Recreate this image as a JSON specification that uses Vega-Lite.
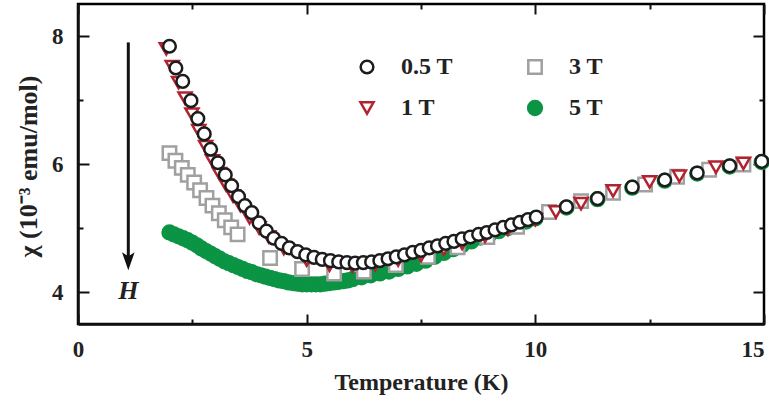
{
  "$schema": "https://vega.github.io/schema/vega-lite/v6.json",
  "width": 686,
  "height": 320,
  "autosize": {"type": "none"},
  "padding": {"left": 78, "top": 4, "right": 5, "bottom": 79},
  "background": "white",
  "config": {
    "view": {"stroke": "black", "strokeWidth": 2.5},
    "font": "Liberation Serif",
    "axis": {
      "grid": false,
      "domainColor": "#111",
      "domainWidth": 2.5,
      "tickColor": "#111",
      "tickWidth": 2,
      "labelFont": "Liberation Serif",
      "labelFontSize": 23,
      "labelFontWeight": "bold",
      "labelColor": "#222",
      "titleFont": "Liberation Serif",
      "titleFontSize": 24,
      "titleFontWeight": "bold",
      "titleColor": "#222"
    }
  },
  "datasets": {
    "points": [
      {"s":"5 T","T":2.0,"chi":4.93},{"s":"5 T","T":2.1,"chi":4.9},{"s":"5 T","T":2.2,"chi":4.87},{"s":"5 T","T":2.3,"chi":4.84},{"s":"5 T","T":2.4,"chi":4.81},{"s":"5 T","T":2.5,"chi":4.77},{"s":"5 T","T":2.6,"chi":4.73},{"s":"5 T","T":2.7,"chi":4.68},{"s":"5 T","T":2.8,"chi":4.64},{"s":"5 T","T":2.9,"chi":4.6},{"s":"5 T","T":3.0,"chi":4.56},{"s":"5 T","T":3.1,"chi":4.52},{"s":"5 T","T":3.2,"chi":4.48},{"s":"5 T","T":3.3,"chi":4.45},{"s":"5 T","T":3.4,"chi":4.42},{"s":"5 T","T":3.5,"chi":4.39},{"s":"5 T","T":3.6,"chi":4.36},{"s":"5 T","T":3.7,"chi":4.33},{"s":"5 T","T":3.8,"chi":4.31},{"s":"5 T","T":3.9,"chi":4.28},{"s":"5 T","T":4.0,"chi":4.26},{"s":"5 T","T":4.1,"chi":4.24},{"s":"5 T","T":4.2,"chi":4.22},{"s":"5 T","T":4.3,"chi":4.2},{"s":"5 T","T":4.4,"chi":4.18},{"s":"5 T","T":4.5,"chi":4.17},{"s":"5 T","T":4.6,"chi":4.15},{"s":"5 T","T":4.7,"chi":4.14},{"s":"5 T","T":4.8,"chi":4.13},{"s":"5 T","T":4.9,"chi":4.12},{"s":"5 T","T":5.0,"chi":4.12},{"s":"5 T","T":5.1,"chi":4.12},{"s":"5 T","T":5.2,"chi":4.12},{"s":"5 T","T":5.3,"chi":4.12},{"s":"5 T","T":5.4,"chi":4.13},{"s":"5 T","T":5.5,"chi":4.14},{"s":"5 T","T":5.6,"chi":4.15},{"s":"5 T","T":5.7,"chi":4.16},{"s":"5 T","T":5.8,"chi":4.17},{"s":"5 T","T":5.9,"chi":4.18},{"s":"5 T","T":6.0,"chi":4.2},{"s":"5 T","T":6.2,"chi":4.23},{"s":"5 T","T":6.4,"chi":4.26},{"s":"5 T","T":6.6,"chi":4.29},{"s":"5 T","T":6.8,"chi":4.32},{"s":"5 T","T":7.0,"chi":4.36},{"s":"5 T","T":7.2,"chi":4.4},{"s":"5 T","T":7.4,"chi":4.44},{"s":"5 T","T":7.6,"chi":4.49},{"s":"5 T","T":7.8,"chi":4.55},{"s":"5 T","T":8.0,"chi":4.61},{"s":"5 T","T":8.2,"chi":4.67},{"s":"5 T","T":8.4,"chi":4.73},{"s":"5 T","T":8.6,"chi":4.79},{"s":"5 T","T":8.8,"chi":4.85},{"s":"5 T","T":9.0,"chi":4.9},{"s":"5 T","T":9.2,"chi":4.95},{"s":"5 T","T":9.4,"chi":5.0},{"s":"5 T","T":9.6,"chi":5.05},{"s":"5 T","T":9.8,"chi":5.1},{"s":"5 T","T":10.0,"chi":5.15},{"s":"5 T","T":10.68,"chi":5.32},{"s":"5 T","T":11.36,"chi":5.45},{"s":"5 T","T":12.12,"chi":5.63},{"s":"5 T","T":12.83,"chi":5.74},{"s":"5 T","T":13.54,"chi":5.85},{"s":"5 T","T":14.25,"chi":5.96},{"s":"5 T","T":14.95,"chi":6.03},
      {"s":"3 T","T":2.0,"chi":6.17},{"s":"3 T","T":2.13,"chi":6.05},{"s":"3 T","T":2.27,"chi":5.94},{"s":"3 T","T":2.4,"chi":5.83},{"s":"3 T","T":2.54,"chi":5.71},{"s":"3 T","T":2.67,"chi":5.59},{"s":"3 T","T":2.81,"chi":5.47},{"s":"3 T","T":2.94,"chi":5.35},{"s":"3 T","T":3.08,"chi":5.23},{"s":"3 T","T":3.21,"chi":5.12},{"s":"3 T","T":3.35,"chi":5.01},{"s":"3 T","T":3.49,"chi":4.9},{"s":"3 T","T":4.2,"chi":4.53},{"s":"3 T","T":4.9,"chi":4.36},{"s":"3 T","T":5.6,"chi":4.29},{"s":"3 T","T":6.25,"chi":4.32},{"s":"3 T","T":6.95,"chi":4.42},{"s":"3 T","T":7.65,"chi":4.55},{"s":"3 T","T":8.3,"chi":4.7},{"s":"3 T","T":8.95,"chi":4.86},{"s":"3 T","T":9.6,"chi":5.02},{"s":"3 T","T":10.3,"chi":5.25},{"s":"3 T","T":11.0,"chi":5.42},{"s":"3 T","T":11.7,"chi":5.55},{"s":"3 T","T":12.4,"chi":5.68},{"s":"3 T","T":13.1,"chi":5.8},{"s":"3 T","T":13.8,"chi":5.91},{"s":"3 T","T":14.55,"chi":5.99},
      {"s":"1 T","T":1.93,"chi":7.8},{"s":"1 T","T":2.06,"chi":7.52},{"s":"1 T","T":2.2,"chi":7.27},{"s":"1 T","T":2.34,"chi":7.03},{"s":"1 T","T":2.49,"chi":6.78},{"s":"1 T","T":2.64,"chi":6.52},{"s":"1 T","T":2.79,"chi":6.27},{"s":"1 T","T":2.94,"chi":6.05},{"s":"1 T","T":3.09,"chi":5.85},{"s":"1 T","T":3.24,"chi":5.67},{"s":"1 T","T":3.39,"chi":5.5},{"s":"1 T","T":3.55,"chi":5.35},{"s":"1 T","T":3.75,"chi":5.16},{"s":"1 T","T":3.96,"chi":5.0},{"s":"1 T","T":4.17,"chi":4.86},{"s":"1 T","T":4.5,"chi":4.68},{"s":"1 T","T":5.0,"chi":4.5},{"s":"1 T","T":5.5,"chi":4.42},{"s":"1 T","T":6.0,"chi":4.4},{"s":"1 T","T":6.5,"chi":4.43},{"s":"1 T","T":7.0,"chi":4.5},{"s":"1 T","T":7.5,"chi":4.57},{"s":"1 T","T":8.0,"chi":4.67},{"s":"1 T","T":8.4,"chi":4.76},{"s":"1 T","T":8.9,"chi":4.87},{"s":"1 T","T":9.4,"chi":4.98},{"s":"1 T","T":10.0,"chi":5.13},{"s":"1 T","T":10.45,"chi":5.25},{"s":"1 T","T":11.0,"chi":5.38},{"s":"1 T","T":11.7,"chi":5.58},{"s":"1 T","T":12.5,"chi":5.72},{"s":"1 T","T":13.15,"chi":5.81},{"s":"1 T","T":13.95,"chi":5.95},{"s":"1 T","T":14.55,"chi":6.01},
      {"s":"0.5 T","T":2.0,"chi":7.84},{"s":"0.5 T","T":2.14,"chi":7.5},{"s":"0.5 T","T":2.29,"chi":7.29},{"s":"0.5 T","T":2.47,"chi":6.99},{"s":"0.5 T","T":2.62,"chi":6.71},{"s":"0.5 T","T":2.76,"chi":6.47},{"s":"0.5 T","T":2.9,"chi":6.23},{"s":"0.5 T","T":3.06,"chi":6.02},{"s":"0.5 T","T":3.22,"chi":5.83},{"s":"0.5 T","T":3.36,"chi":5.66},{"s":"0.5 T","T":3.51,"chi":5.49},{"s":"0.5 T","T":3.65,"chi":5.35},{"s":"0.5 T","T":3.8,"chi":5.24},{"s":"0.5 T","T":3.96,"chi":5.08},{"s":"0.5 T","T":4.12,"chi":4.95},{"s":"0.5 T","T":4.28,"chi":4.84},{"s":"0.5 T","T":4.45,"chi":4.76},{"s":"0.5 T","T":4.62,"chi":4.69},{"s":"0.5 T","T":4.8,"chi":4.63},{"s":"0.5 T","T":4.98,"chi":4.58},{"s":"0.5 T","T":5.16,"chi":4.54},{"s":"0.5 T","T":5.34,"chi":4.51},{"s":"0.5 T","T":5.52,"chi":4.49},{"s":"0.5 T","T":5.7,"chi":4.47},{"s":"0.5 T","T":5.88,"chi":4.46},{"s":"0.5 T","T":6.06,"chi":4.45},{"s":"0.5 T","T":6.24,"chi":4.46},{"s":"0.5 T","T":6.42,"chi":4.47},{"s":"0.5 T","T":6.6,"chi":4.49},{"s":"0.5 T","T":6.78,"chi":4.52},{"s":"0.5 T","T":6.96,"chi":4.55},{"s":"0.5 T","T":7.14,"chi":4.58},{"s":"0.5 T","T":7.32,"chi":4.62},{"s":"0.5 T","T":7.5,"chi":4.65},{"s":"0.5 T","T":7.68,"chi":4.69},{"s":"0.5 T","T":7.86,"chi":4.72},{"s":"0.5 T","T":8.04,"chi":4.76},{"s":"0.5 T","T":8.22,"chi":4.79},{"s":"0.5 T","T":8.4,"chi":4.83},{"s":"0.5 T","T":8.58,"chi":4.86},{"s":"0.5 T","T":8.76,"chi":4.9},{"s":"0.5 T","T":8.94,"chi":4.93},{"s":"0.5 T","T":9.12,"chi":4.97},{"s":"0.5 T","T":9.3,"chi":5.01},{"s":"0.5 T","T":9.48,"chi":5.05},{"s":"0.5 T","T":9.66,"chi":5.09},{"s":"0.5 T","T":9.84,"chi":5.13},{"s":"0.5 T","T":10.02,"chi":5.17},{"s":"0.5 T","T":10.68,"chi":5.33},{"s":"0.5 T","T":11.36,"chi":5.46},{"s":"0.5 T","T":12.12,"chi":5.64},{"s":"0.5 T","T":12.83,"chi":5.75},{"s":"0.5 T","T":13.54,"chi":5.86},{"s":"0.5 T","T":14.25,"chi":5.97},{"s":"0.5 T","T":14.95,"chi":6.04}
    ],
    "arrow": [{"T": 1.1, "top": 7.9, "bottom": 4.55, "head": 4.48, "hy": 4.02, "txt": "H"}]
  },
  "resolve": {"axis": {"x": "independent", "y": "independent"}},
  "layer": [
    {
      "data": {"name": "points"},
      "mark": {"type": "point", "strokeWidth": 2.5, "opacity": 1},
      "encoding": {
        "x": {
          "field": "T", "type": "quantitative",
          "scale": {"domain": [0, 15], "nice": false, "zero": false},
          "axis": {
            "orient": "bottom",
            "values": [0, 2.5, 5, 7.5, 10, 12.5, 15],
            "labelExpr": "datum.value % 5 == 0 ? datum.label : ''",
            "tickSize": {"condition": {"test": "datum.value % 5 != 0", "value": -5}, "value": -10},
            "labelPadding": 24,
            "labelFlush": false,
            "labelAlign": {"condition": {"test": "datum.value == 15", "value": "right"}, "value": "center"},
            "title": "Temperature (K)",
            "titleY": 58,
            "titleBaseline": "middle"
          }
        },
        "y": {
          "field": "chi", "type": "quantitative",
          "scale": {"domain": [3.5, 8.5], "nice": false, "zero": false},
          "axis": {
            "orient": "left",
            "values": [4, 5, 6, 7, 8],
            "labelExpr": "datum.value % 2 == 0 ? datum.label : ''",
            "tickSize": {"condition": {"test": "datum.value % 2 != 0", "value": -5}, "value": -11},
            "labelPadding": 26,
            "title": "χ (10⁻³ emu/mol)",
            "titleFontSize": 26,
            "titleX": -50,
            "titleY": 162,
            "titleAngle": -90,
            "titleAlign": "center",
            "titleBaseline": "middle"
          }
        },
        "shape": {
          "field": "s", "type": "nominal",
          "scale": {"domain": ["0.5 T", "1 T", "3 T", "5 T"], "range": ["circle", "triangle-down", "square", "circle"]},
          "legend": {
            "title": null, "orient": "none", "legendX": 277, "legendY": 51,
            "columns": 2, "columnPadding": 69, "rowPadding": 17,
            "labelFont": "Liberation Serif", "labelFontSize": 24, "labelFontWeight": "bold",
            "labelColor": "#222", "labelOffset": 22, "symbolStrokeWidth": 2.5
          }
        },
        "stroke": {
          "field": "s", "type": "nominal",
          "scale": {"domain": ["0.5 T", "1 T", "3 T", "5 T"], "range": ["#1c1c1c", "#b2222f", "#a0a0a0", "#0b9444"]}
        },
        "fill": {
          "field": "s", "type": "nominal",
          "scale": {"domain": ["0.5 T", "1 T", "3 T", "5 T"], "range": ["white", "white", "white", "#0b9444"]}
        },
        "size": {
          "field": "s", "type": "nominal",
          "scale": {"domain": ["0.5 T", "1 T", "3 T", "5 T"], "range": [160, 190, 110, 150]}
        }
      }
    },
    {
      "data": {"name": "arrow"},
      "mark": {"type": "rule", "strokeWidth": 3, "color": "#111"},
      "encoding": {
        "x": {
          "field": "T", "type": "quantitative",
          "scale": {"domain": [0, 15], "nice": false, "zero": false},
          "axis": {
            "orient": "top", "labels": false, "title": null, "domain": false,
            "values": [0, 2.5, 5, 7.5, 10, 12.5, 15],
            "tickSize": {"condition": {"test": "datum.value % 5 != 0", "value": -5}, "value": -10}
          }
        },
        "y": {
          "field": "top", "type": "quantitative",
          "scale": {"domain": [3.5, 8.5], "nice": false, "zero": false},
          "axis": {
            "orient": "right", "labels": false, "title": null, "domain": false,
            "values": [4, 5, 6, 7, 8],
            "tickSize": {"condition": {"test": "datum.value % 2 != 0", "value": -5}, "value": -11}
          }
        },
        "y2": {"field": "bottom"}
      }
    },
    {
      "data": {"name": "arrow"},
      "mark": {"type": "point", "shape": "M-0.7,-1L0,1L0.7,-1L0,-0.55Z", "size": 324, "filled": true, "color": "#111", "opacity": 1},
      "encoding": {
        "x": {"field": "T", "type": "quantitative", "scale": {"domain": [0, 15], "nice": false, "zero": false}, "axis": null},
        "y": {"field": "head", "type": "quantitative", "scale": {"domain": [3.5, 8.5], "nice": false, "zero": false}, "axis": null}
      }
    },
    {
      "data": {"name": "arrow"},
      "mark": {"type": "text", "font": "Liberation Serif", "fontSize": 26, "fontStyle": "italic", "fontWeight": "bold", "color": "#222", "baseline": "middle", "align": "center"},
      "encoding": {
        "x": {"field": "T", "type": "quantitative", "scale": {"domain": [0, 15], "nice": false, "zero": false}, "axis": null},
        "y": {"field": "hy", "type": "quantitative", "scale": {"domain": [3.5, 8.5], "nice": false, "zero": false}, "axis": null},
        "text": {"field": "txt"}
      }
    }
  ]
}
